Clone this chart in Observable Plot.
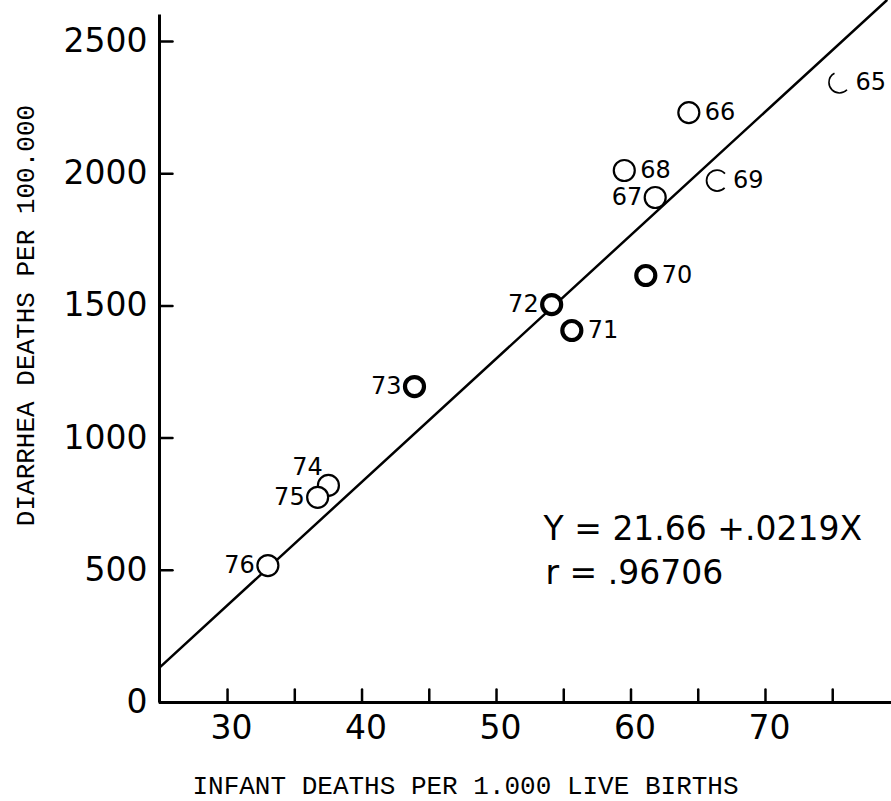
<!DOCTYPE html>
<html><head><meta charset="utf-8">
<script src="https://cdn.jsdelivr.net/npm/d3@7"></script>
<script src="https://cdn.jsdelivr.net/npm/@observablehq/plot@0.6"></script>
<style>body{margin:0;background:#fff}</style>
</head><body><div id="chart"></div>
<script>
// Data
const years = ["65","66","67","68","69","70","71","72","73","74","75","76"];
const infantDeaths = [75.5, 64.3, 61.8, 59.5, 66.4, 61.1, 55.6, 54.1, 43.9, 37.5, 36.7, 33.0];
const diarrheaDeaths = [2345, 2231, 1910, 2012, 1974, 1615, 1407, 1505, 1195, 821, 776, 518];

// Regression line end points (as drawn)
const fitX = [24.94, 79.0];
const fitY = [132, 2655];

// Ticks
const xTicks = [30, 35, 40, 45, 50, 55, 60, 65, 70, 75];
const xTickLabels = [30, 40, 50, 60, 70];
const yTicks = [0, 500, 1000, 1500, 2000, 2500];

const xTitle = "INFANT DEATHS PER 1.000 LIVE BIRTHS";
const yTitle = "DIARRHEA DEATHS PER 100.000";
const eq1 = "Y = 21.66 +.0219X";
const eq2 = "r = .96706";

// Label placement groups
const rightLabels = new Set(["65","66","68","69","70","71"]);
const aboveLabels = new Set(["74"]);
const heavy = new Set(["70","71","72","73"]);
const openC = new Set(["69"]);
const openC2 = new Set(["65"]);

const xDomain = [24.94, 79.37];
const yDomain = [0, 2655];
const yAxisTop = 2600;

const pts = years.map((y, i) => ({year: y, x: infantDeaths[i], y: diarrheaDeaths[i]}));
const fit = fitX.map((x, i) => ({x, y: fitY[i]}));

const sans = "DejaVu Sans";
const mono = "Liberation Mono";

const plainPts = pts.filter(d => !heavy.has(d.year) && !openC.has(d.year) && !openC2.has(d.year));

// a plain line shape for inward tick marks
const tickShape = {draw(context, l) { context.moveTo(0, 0); context.lineTo(0, -l); }};

const chart = Plot.plot({
  width: 891,
  height: 801,
  marginLeft: 159,
  marginRight: 0,
  marginTop: 0,
  marginBottom: 99,
  x: {domain: xDomain, axis: null},
  y: {domain: yDomain, axis: null},
  style: {background: "white", color: "black"},
  marks: [
    // axis lines
    Plot.ruleY([0], {x1: xDomain[0], x2: xDomain[1], stroke: "black", strokeWidth: 3}),
    Plot.ruleX([xDomain[0]], {y1: 0, y2: yAxisTop, stroke: "black", strokeWidth: 3}),
    // ticks (pointing inward)
    Plot.vector(xTicks, {x: d => d, y: 0, length: 13, rotate: 0, anchor: "start", shape: tickShape, stroke: "black", strokeWidth: 2.5}),
    Plot.vector(yTicks, {x: xDomain[0], y: d => d, length: 13, rotate: 90, anchor: "start", shape: tickShape, stroke: "black", strokeWidth: 2.5}),
    // tick labels
    Plot.axisX(xTickLabels, {tickSize: 0, tickPadding: 13, dx: 4, tickFormat: d => String(d), label: null, fontSize: 33, fontFamily: sans, fill: "black"}),
    Plot.axisY(yTicks, {tickSize: 0, tickPadding: 12, tickFormat: d => String(d), label: null, fontSize: 33, fontFamily: sans, fill: "black"}),
    // regression line
    Plot.line(fit, {x: "x", y: "y", stroke: "black", strokeWidth: 2.5}),
    // points
    Plot.dot(plainPts, {x: "x", y: "y", r: 10.5, stroke: "black", strokeWidth: 2.2, fill: "white"}),
    Plot.dot(pts.filter(d => heavy.has(d.year)), {x: "x", y: "y", r: 9.5, stroke: "black", strokeWidth: 4.2, fill: "white"}),
    Plot.dot(pts.filter(d => openC.has(d.year)), {x: "x", y: "y", r: 10.5, stroke: "black", strokeWidth: 1.8, fill: "none", strokeDasharray: "50 16", strokeDashoffset: -8}),
    Plot.dot(pts.filter(d => openC2.has(d.year)), {x: "x", y: "y", r: 10.5, stroke: "black", strokeWidth: 1.6, fill: "none", strokeDasharray: "36 30", strokeDashoffset: -8}),
    // point labels
    Plot.text(pts.filter(d => rightLabels.has(d.year)), {x: "x", y: "y", text: "year", dx: 16, textAnchor: "start", fontSize: 24, fontFamily: sans, fill: "black"}),
    Plot.text(pts.filter(d => !rightLabels.has(d.year) && !aboveLabels.has(d.year)), {x: "x", y: "y", text: "year", dx: -13, textAnchor: "end", fontSize: 24, fontFamily: sans, fill: "black"}),
    Plot.text(pts.filter(d => aboveLabels.has(d.year)), {x: "x", y: "y", text: "year", dx: -21, dy: -18, textAnchor: "middle", fontSize: 24, fontFamily: sans, fill: "black"}),
    // equation
    Plot.text([eq1], {x: 53.5, y: 656, text: d => d, textAnchor: "start", fontSize: 33, fontFamily: sans, fill: "black"}),
    Plot.text([eq2], {x: 53.64, y: 488, text: d => d, textAnchor: "start", fontSize: 33, fontFamily: sans, fill: "black"}),
    // axis titles
    Plot.text([xTitle], {frameAnchor: "bottom", dx: -60, dy: 83, text: d => d, textAnchor: "middle", lineAnchor: "middle", fontSize: 26, fontFamily: mono, fill: "black"}),
    Plot.text([yTitle], {frameAnchor: "left", dx: -134, dy: -36, rotate: -90, text: d => d, textAnchor: "middle", lineAnchor: "middle", fontSize: 26, fontFamily: mono, fill: "black"})
  ]
});
document.getElementById("chart").appendChild(chart);
</script>
</body></html>
